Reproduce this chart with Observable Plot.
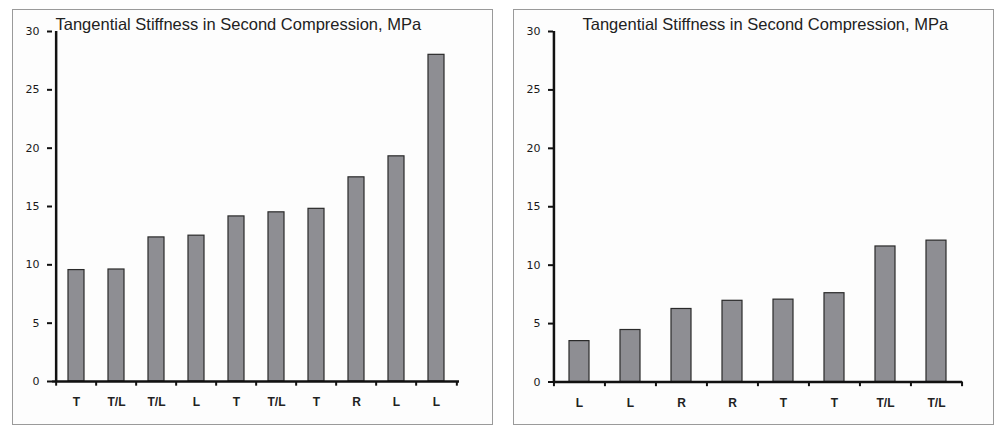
<!DOCTYPE html>
<html><head><meta charset="utf-8">
<script src="https://cdn.jsdelivr.net/npm/d3@7"></script>
<script src="https://cdn.jsdelivr.net/npm/@observablehq/plot@0.6"></script>
<style>
body{margin:0;background:#fff;width:1002px;height:428px;position:relative;overflow:hidden;font-family:"Liberation Sans",Arial,sans-serif}
.panel{position:absolute;top:9px;width:479px;height:414px;border:1px solid #9a9a9a;background:#fdfdfd}
.panel svg{display:block;background:transparent}
</style></head><body>
<div id="p1" class="panel" style="left:12px"></div>
<div id="p2" class="panel" style="left:513px"></div>
<script>
const title = "Tangential Stiffness in Second Compression, MPa";
const yTicks = [0, 5, 10, 15, 20, 25, 30];
const leftLabels = ["T", "T/L", "T/L", "L", "T", "T/L", "T", "R", "L", "L"];
const leftValues = [9.55, 9.6, 12.35, 12.5, 14.15, 14.5, 14.8, 17.5, 19.3, 28.0];
const rightLabels = ["L", "L", "R", "R", "T", "T", "T/L", "T/L"];
const rightValues = [3.5, 4.45, 6.25, 6.95, 7.05, 7.6, 11.6, 12.1];

function chart(labels, values, opt) {
  const n = labels.length;
  const data = labels.map((l, i) => ({i, label: l, value: values[i]}));
  const W = 479, H = 414, ml = 39, mr = opt.mr, mt = 21, mb = opt.mb;
  const step = (W - ml - mr) / n;
  return Plot.plot({
    width: W, height: H,
    marginLeft: ml, marginRight: mr, marginTop: mt, marginBottom: mb,
    style: {fontFamily: '"Liberation Sans", Arial, sans-serif', background: "transparent", color: "#111"},
    x: {type: "band", domain: d3.range(n), paddingInner: 0.6, paddingOuter: 0.3, axis: null, label: null},
    y: {domain: [0, 30], axis: null, label: null},
    marks: [
      Plot.barY(data, {x: "i", y: "value", fill: "#8e8e93", stroke: "#2a2a2a", strokeWidth: 1.2}),
      Plot.axisY({ticks: yTicks, label: null, tickSize: 5, tickPadding: 8, fontSize: 11, fontFamily: '"DejaVu Sans", sans-serif', strokeWidth: 2, stroke: "#111", fill: "#1a1a1a"}),
      Plot.axisX({label: null, tickSize: 0, tickPadding: 16, fontSize: 12, fontWeight: "bold", fill: "#222", tickFormat: i => labels[i]}),
      Plot.ruleX(data, {x: "i", y1: 0, y2: -0.4, dx: -step / 2, stroke: "#111", strokeWidth: 2}),
      Plot.ruleX([n - 1], {x: d => d, y1: 0, y2: -0.4, dx: step / 2, stroke: "#111", strokeWidth: 2}),
      Plot.ruleX([0], {x: d => d, y1: 0, y2: 30, dx: -step / 2, stroke: "#111", strokeWidth: 2.5}),
      Plot.ruleY([0], {stroke: "#111", strokeWidth: 2.5}),
      Plot.text([title], {frameAnchor: "top-left", textAnchor: "start", lineAnchor: "top", dx: opt.tdx, dy: -13, fontSize: 16.5, fill: "#222"})
    ]
  });
}
document.getElementById("p1").append(chart(leftLabels, leftValues, {mr: 33, mb: 43, tdx: 3}));
document.getElementById("p2").append(chart(rightLabels, rightValues, {mr: 31, mb: 42.5, tdx: 29}));
</script>
</body></html>
